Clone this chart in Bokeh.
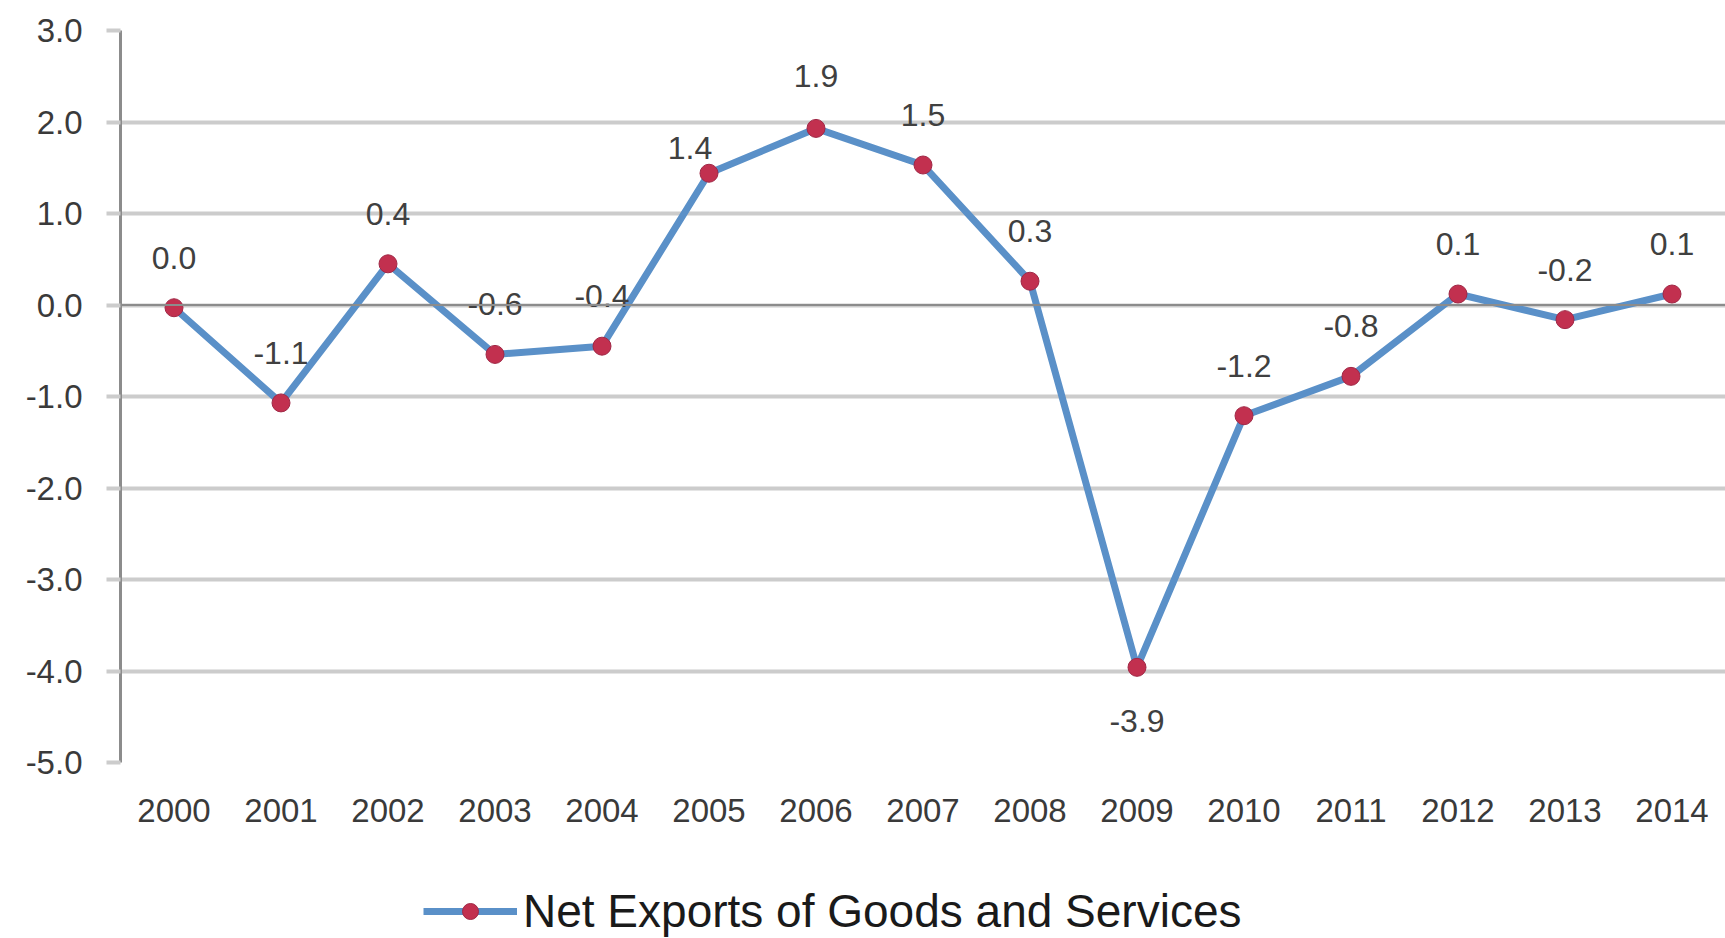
from bokeh.plotting import figure
from bokeh.layouts import column
from bokeh.models import FactorRange, Range1d, FixedTicker, PrintfTickFormatter, Span, Legend, LegendItem, ColumnDataSource
from bokeh.core.properties import value
from bokeh.embed import file_html
from bokeh.resources import INLINE

years = ["2000", "2001", "2002", "2003", "2004", "2005", "2006", "2007",
         "2008", "2009", "2010", "2011", "2012", "2013", "2014"]
net_exports = [-0.03, -1.07, 0.45, -0.54, -0.45, 1.44, 1.93, 1.53,
               0.26, -3.96, -1.21, -0.78, 0.12, -0.16, 0.12]
value_labels = ["0.0", "-1.1", "0.4", "-0.6", "-0.4", "1.4", "1.9", "1.5",
                "0.3", "-3.9", "-1.2", "-0.8", "0.1", "-0.2", "0.1"]
y_ticks = [-5, -4, -3, -2, -1, 0, 1, 2, 3]
series_name = "Net Exports of Goods and Services"

# label placement (screen px), style only
lab_dx = [0, 0, 0, 0, 0, -19, 0, 0, 0, 0, 0, 0, 0, 0, 0]
lab_dy = [-50, -50, -50, -50, -50, -25, -52, -50, -50, 54, -50, -50, -50, -50, -50]

FONT = "Liberation Sans"
LINE_C = "#5a90c8"
MARK_C = "#c2304f"
MARK_EDGE = "#a02846"

src = ColumnDataSource(dict(x=years, y=net_exports, lab=value_labels, dx=lab_dx, dy=lab_dy))
xr = FactorRange(*years)

p = figure(width=1725, height=850, x_range=xr, y_range=Range1d(-5, 3),
           output_backend="svg", toolbar_location=None,
           min_border_left=120, min_border_right=0, min_border_top=30, min_border_bottom=88)
p.outline_line_color = None
p.background_fill_color = "white"
p.border_fill_color = "white"

# grid
p.xgrid.grid_line_color = None
p.ygrid.ticker = FixedTicker(ticks=y_ticks)
p.ygrid.grid_line_color = "#cccccc"
p.ygrid.grid_line_width = 4

# y axis
p.yaxis.ticker = FixedTicker(ticks=y_ticks)
p.yaxis.formatter = PrintfTickFormatter(format="%.1f")
p.yaxis.axis_line_color = "#8c8c8c"
p.yaxis.axis_line_width = 3
p.yaxis.major_tick_out = 14
p.yaxis.major_tick_in = 0
p.yaxis.major_tick_line_color = "#cccccc"
p.yaxis.major_tick_line_width = 4
p.yaxis.minor_tick_line_color = None
p.yaxis.major_label_standoff = 24
p.yaxis.major_label_text_font = FONT
p.yaxis.major_label_text_font_size = "33px"
p.yaxis.major_label_text_color = "#3a3a3a"

# x axis
p.xaxis.axis_line_color = None
p.xaxis.major_tick_line_color = None
p.xaxis.minor_tick_line_color = None
p.xaxis.major_label_standoff = 30
p.xaxis.major_label_text_font = FONT
p.xaxis.major_label_text_font_size = "33px"
p.xaxis.major_label_text_color = "#3a3a3a"

zero = Span(location=0, dimension="width", line_color="#8c8c8c", line_width=2)
p.add_layout(zero)

p.line("x", "y", source=src, line_color=LINE_C, line_width=7)
p.scatter("x", "y", source=src, size=18, fill_color=MARK_C, line_color=MARK_EDGE, line_width=1)

p.text("x", "y", text="lab", source=src, x_offset="dx", y_offset="dy",
       text_font=value(FONT), text_font_size="32px", text_color="#404040",
       text_align="center", text_baseline="middle")

# legend strip below the chart (same series, out of its visible y window)
lf = figure(width=1725, height=88, output_backend="svg", toolbar_location=None,
            min_border=0, x_range=xr, y_range=Range1d(50, 51))
lf.axis.visible = False
lf.grid.grid_line_color = None
lf.outline_line_color = None
lf.border_fill_color = "white"
lln = lf.line("x", "y", source=src, line_color=LINE_C, line_width=7)
lmk = lf.scatter("x", "y", source=src, size=18, fill_color=MARK_C, line_color=MARK_EDGE, line_width=1)
legend = Legend(items=[LegendItem(label=series_name, renderers=[lln, lmk])],
                location=(303, 0), orientation="horizontal",
                glyph_width=94, glyph_height=40, label_standoff=6,
                label_text_font=FONT, label_text_font_size="46px", label_text_color="#1a1a1a",
                border_line_color=None, background_fill_alpha=0, padding=0, margin=0)
lf.add_layout(legend, "center")

layout = column(p, lf, spacing=0)
open("out.html", "w").write(file_html(layout, INLINE))
